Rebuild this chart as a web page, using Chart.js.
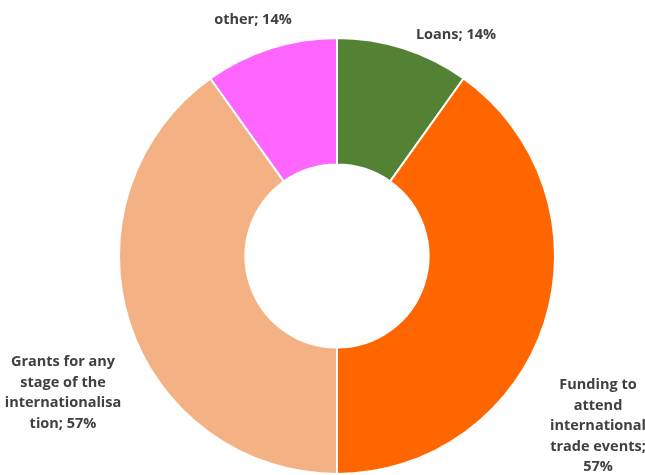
<!DOCTYPE html>
<html>
<head>
<meta charset="utf-8">
<script src="https://cdn.jsdelivr.net/npm/chart.js@4.4.1/dist/chart.umd.min.js"></script>
<style>
  html, body { margin: 0; padding: 0; background: #fff; }
  #wrap { width: 645px; height: 475px; position: relative; }
</style>
</head>
<body>
<div id="wrap"><canvas id="grafico"></canvas></div>
<script>
const categorias = ['Loans', 'Funding to attend international trade events', 'Grants for any stage of the internationalisation', 'other'];
const valores = [14, 57, 57, 14];
const rotulos = [
    ['Loans; 14%'],
    ['Funding to', 'attend', 'international', 'trade events;', '57%'],
    ['Grants for any', 'stage of the', 'internationalisa', 'tion; 57%'],
    ['other; 14%']
];
const cores = ['#548235', '#FF6600', '#F4B183', '#FF66FF'];

// onde fica cada rotulo (centro do bloco de texto)
const posRotulos = [
    { x: 456, y: 35 },
    { x: 598, y: 426 },
    { x: 63, y: 393 },
    { x: 253, y: 20 }
];

const pluginRotulos = {
    id: 'rotulos',
    afterDraw(chart) {
        const ctx = chart.ctx;
        ctx.save();
        ctx.font = 'bold 14.5px "Open Sans", sans-serif';
        ctx.fillStyle = '#404040';
        ctx.textAlign = 'center';
        ctx.textBaseline = 'middle';
        const alturaLinha = 20.5;
        rotulos.forEach((linhas, i) => {
            const p = posRotulos[i];
            const y0 = p.y - (linhas.length - 1) * alturaLinha / 2;
            linhas.forEach((linha, j) => {
                ctx.fillText(linha, p.x, y0 + j * alturaLinha);
            });
        });
        ctx.restore();
    }
};

const grafico = new Chart(document.getElementById('grafico'), {
    type: 'doughnut',
    data: {
        labels: categorias,
        datasets: [{
            data: valores,
            backgroundColor: cores,
            borderColor: '#ffffff',
            borderWidth: 2
        }]
    },
    options: {
        responsive: true,
        maintainAspectRatio: false,
        animation: false,
        cutout: '42%',
        layout: { padding: { left: 118, right: 89, top: 37, bottom: 0 } },
        plugins: {
            legend: { display: false },
            tooltip: { enabled: false }
        }
    },
    plugins: [pluginRotulos]
});
</script>
</body>
</html>
